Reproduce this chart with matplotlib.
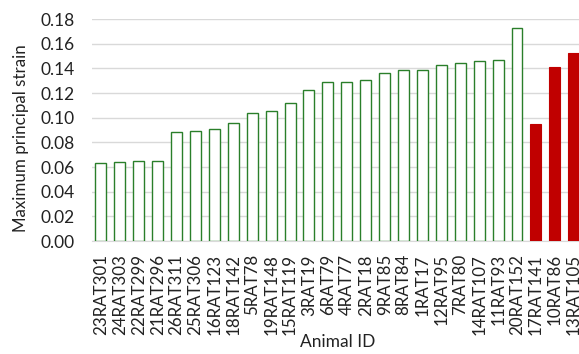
import matplotlib
matplotlib.use("Agg")
import matplotlib.pyplot as plt

animals = ["23RAT301", "24RAT303", "22RAT299", "21RAT296", "26RAT311", "25RAT306",
           "16RAT123", "18RAT142", "5RAT78", "19RAT148", "15RAT119", "3RAT19",
           "6RAT79", "4RAT77", "2RAT18", "9RAT85", "8RAT84", "1RAT17", "12RAT95",
           "7RAT80", "14RAT107", "11RAT93", "20RAT152", "17RAT141", "10RAT86", "13RAT105"]
strain = [0.063, 0.0643, 0.0651, 0.0651, 0.0884, 0.0895, 0.0911, 0.0960, 0.1038, 0.1054,
          0.1119, 0.1224, 0.1287, 0.1287, 0.1308, 0.1365, 0.1387, 0.1389, 0.1425,
          0.1441, 0.1462, 0.1471, 0.1730, 0.0946, 0.1414, 0.1527]
highlight = ["17RAT141", "10RAT86", "13RAT105"]
yticks = [0.00, 0.02, 0.04, 0.06, 0.08, 0.10, 0.12, 0.14, 0.16, 0.18]

plt.rcParams['font.family'] = ['Lato', 'DejaVu Sans']
W, H = 579, 354
fig = plt.figure(figsize=(W / 100, H / 100), dpi=100)
left, right, top, bottom = 91.5, 583.2, 19, 241
ax = fig.add_axes([left / W, 1 - bottom / H, (right - left) / W, (bottom - top) / H])

green = '#2A7F2A'
red = '#C00000'
x = list(range(len(animals)))
for i, (a, v) in enumerate(zip(animals, strain)):
    if a in highlight:
        ax.bar(i, v, width=0.58, color=red, edgecolor=red, linewidth=0.8, zorder=3)
    else:
        ax.bar(i, v, width=0.58, facecolor='white', edgecolor=green, linewidth=1.0, zorder=3)

ax.set_xlim(-0.5, len(animals) - 0.5)
ax.set_ylim(0, 0.18)
ax.set_yticks(yticks)
ax.set_yticklabels([f"{t:.2f}" for t in yticks], fontsize=12.5, color='#222222')
ax.set_xticks(x)
ax.set_xticklabels(animals, rotation=90, fontsize=12.2, color='#222222')
ax.tick_params(axis='both', length=0)
ax.tick_params(axis='y', pad=12)
ax.tick_params(axis='x', pad=9.5)
ax.grid(axis='y', color='#D9D9D9', linewidth=1.0, zorder=0)
ax.set_axisbelow(True)
for s in ['top', 'right', 'left']:
    ax.spines[s].set_visible(False)
ax.spines['bottom'].set_color('#D9D9D9')

fig.text(21 / W, 1 - 138.5 / H, "Maximum principal strain", rotation=90,
         ha='center', va='center', fontsize=12.2, color='#222222')
fig.text(338 / W, 1 - 342 / H, "Animal ID", ha='center', va='center', fontsize=12.5,
         color='#222222')

fig.savefig("out.png", dpi=100)
